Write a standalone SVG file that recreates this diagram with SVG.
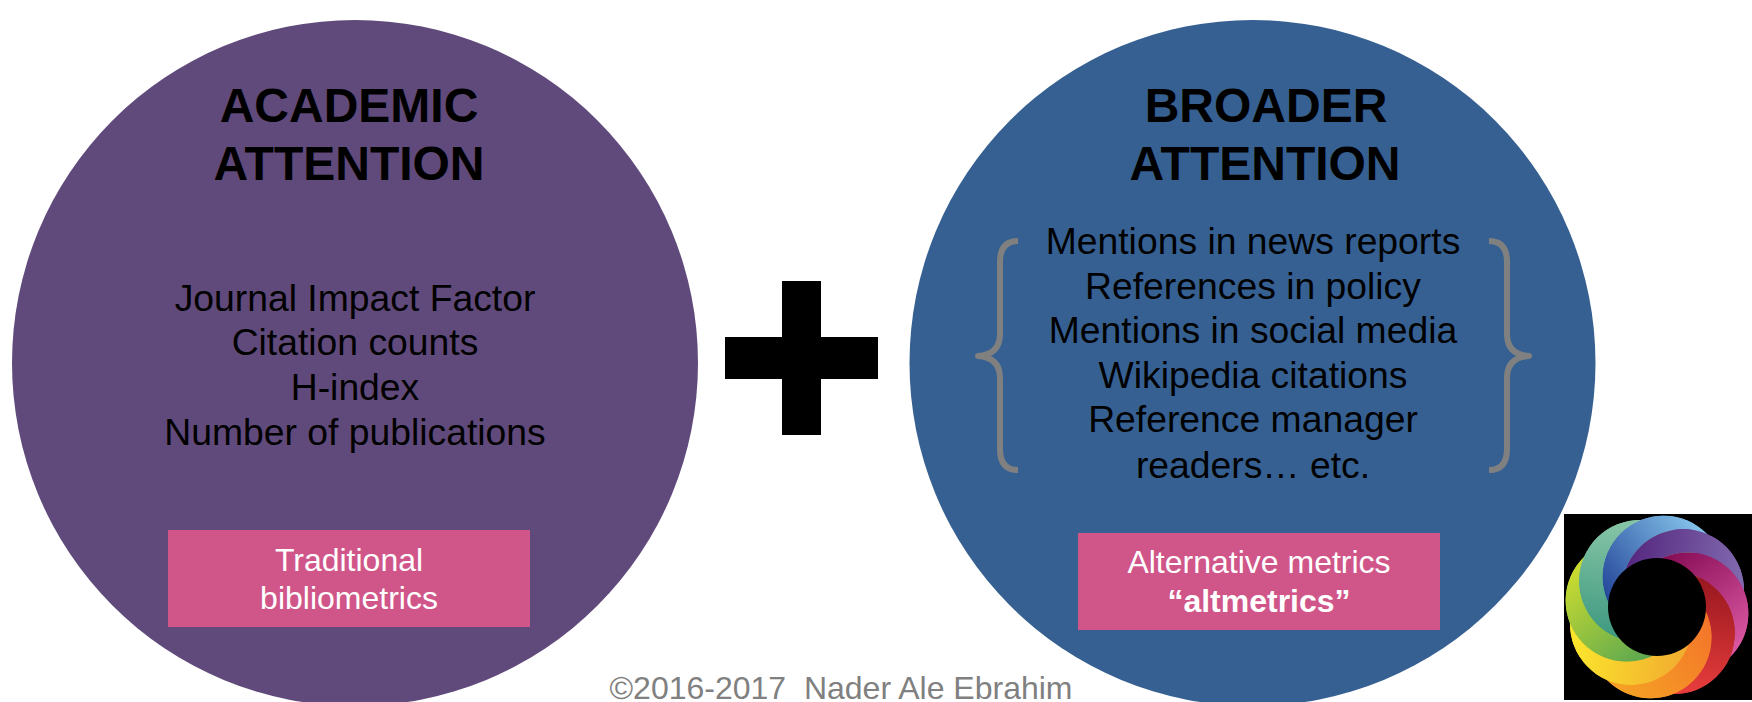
<svg xmlns="http://www.w3.org/2000/svg" width="1752" height="702" viewBox="0 0 1752 702">
<style>
text{font-family:"Liberation Sans",Arial,sans-serif;text-anchor:middle}
.t{font-size:48px;font-weight:700;fill:#000}
.b{font-size:37.3px;fill:#000}
.l{font-size:32px;fill:#fff}
.br{fill:none;stroke:#808080;stroke-width:6;stroke-linecap:butt;stroke-linejoin:round}
.c{clip-path:url(#lc)}
</style>
<defs>
<linearGradient id="g1" x1=".3" y1="0" x2="1" y2=".6"><stop offset="0" stop-color="#25479a"/><stop offset="1" stop-color="#80bde6"/></linearGradient>
<linearGradient id="g2" x1=".3" y1="0" x2="1" y2=".6"><stop offset="0" stop-color="#55287f"/><stop offset="1" stop-color="#8068ae"/></linearGradient>
<linearGradient id="g3" x1=".3" y1="0" x2="1" y2=".6"><stop offset="0" stop-color="#870d56"/><stop offset="1" stop-color="#d8559f"/></linearGradient>
<linearGradient id="g4" x1=".3" y1="0" x2="1" y2=".6"><stop offset="0" stop-color="#99181f"/><stop offset="1" stop-color="#e63c3c"/></linearGradient>
<linearGradient id="g5" x1=".3" y1="0" x2="1" y2=".6"><stop offset="0" stop-color="#f4742a"/><stop offset="1" stop-color="#f5a024"/></linearGradient>
<linearGradient id="g6" x1=".3" y1="0" x2="1" y2=".6"><stop offset="0" stop-color="#f2ac30"/><stop offset="1" stop-color="#fbe52c"/></linearGradient>
<linearGradient id="g7" x1=".3" y1="0" x2="1" y2=".6"><stop offset="0" stop-color="#5da850"/><stop offset="1" stop-color="#c8da30"/></linearGradient>
<linearGradient id="g8" x1=".3" y1="0" x2="1" y2=".6"><stop offset="0" stop-color="#3f9a80"/><stop offset="1" stop-color="#86c4a6"/></linearGradient>
<clipPath id="lc"><path clip-rule="evenodd" d="M-200-200h400v400h-400zM-39.08 21.92a61 61 0 1 0 122 0a61 61 0 1 0-122 0z"/></clipPath>
<circle id="p" cx="31" cy="0" r="61"/>
</defs>
<g id="academic">
<circle cx="355" cy="363" r="343" fill="#604a7b"/>
<text class="t" x="349" y="122">ACADEMIC</text>
<text class="t" x="349" y="180">ATTENTION</text>
<text class="b" x="355" y="311">Journal Impact Factor</text>
<text class="b" x="355" y="355">Citation counts</text>
<text class="b" x="355" y="400">H-index</text>
<text class="b" x="355" y="445">Number of publications</text>
</g>
<g id="traditional">
<rect x="168" y="530" width="362" height="97" fill="#d0568a"/>
<text class="l" x="349" y="571">Traditional</text>
<text class="l" x="349" y="609">bibliometrics</text>
</g>
<g id="plus"><path d="M782 281h39v56h57v42h-57v56h-39v-56h-57v-42h57z" fill="#000"/></g>
<g id="broader">
<circle cx="1252.5" cy="363" r="343" fill="#366092"/>
<text class="t" x="1266" y="122">BROADER</text>
<text class="t" x="1265" y="180">ATTENTION</text>
<text class="b" x="1253" y="254">Mentions in news reports</text>
<text class="b" x="1253" y="299">References in policy</text>
<text class="b" x="1253" y="343">Mentions in social media</text>
<text class="b" x="1253" y="388">Wikipedia citations</text>
<text class="b" x="1253" y="432">Reference manager</text>
<text class="b" x="1253" y="478">readers… etc.</text>
<path class="br" d="M1018 241C1006 241 1000 248 1000 262V334C1000 347 993 355 978 356C993 357 1000 365 1000 378V449C1000 463 1006 470 1018 470"/>
<path class="br" d="M1489 241C1501 241 1507 248 1507 262V334C1507 347 1514 355 1529 356C1514 357 1507 365 1507 378V449C1507 463 1501 470 1489 470"/>
</g>
<g id="altmetrics">
<rect x="1078" y="533" width="362" height="97" fill="#d0568a"/>
<text class="l" x="1259" y="573">Alternative metrics</text>
<text class="l" x="1259" y="612" font-weight="700">“altmetrics”</text>
</g>
<g id="logo">
<rect x="1564" y="514" width="188" height="186" fill="#000"/>
<g transform="translate(1657 607)">
<use href="#p" transform="rotate(282)" fill="url(#g1)"/>
<use href="#p" transform="rotate(327)" fill="url(#g2)"/>
<use href="#p" transform="rotate(12)" fill="url(#g3)"/>
<use href="#p" transform="rotate(57)" fill="url(#g4)"/>
<use href="#p" transform="rotate(102)" fill="url(#g5)"/>
<use href="#p" transform="rotate(147)" fill="url(#g6)"/>
<use href="#p" transform="rotate(192)" fill="url(#g7)"/>
<use href="#p" transform="rotate(237)" fill="url(#g8)"/>
<use href="#p" class="c" transform="rotate(282)" fill="url(#g1)"/>
<use href="#p" class="c" transform="rotate(327)" fill="url(#g2)"/>
<use href="#p" class="c" transform="rotate(12)" fill="url(#g3)"/>
<use href="#p" class="c" transform="rotate(57)" fill="url(#g4)"/>
<use href="#p" class="c" transform="rotate(102)" fill="url(#g5)"/>
<use href="#p" class="c" transform="rotate(147)" fill="url(#g6)"/>
<use href="#p" class="c" transform="rotate(192)" fill="url(#g7)"/>
<use href="#p" class="c" transform="rotate(237)" fill="url(#g8)"/>
</g>
<circle cx="1657" cy="607" r="49" fill="#000"/>
</g>
<g id="copyright"><text x="841" y="699" font-size="32" fill="#808080" style="white-space:pre">©2016-2017  Nader Ale Ebrahim</text></g>
</svg>
